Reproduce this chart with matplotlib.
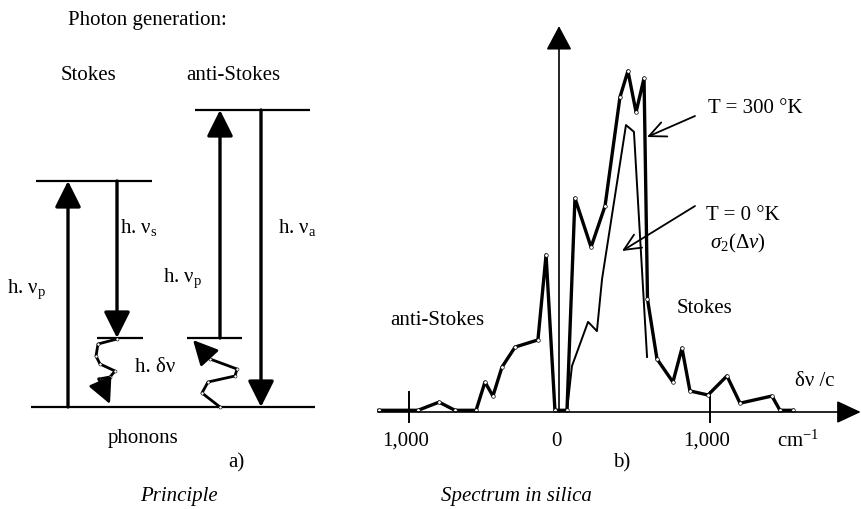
import matplotlib
matplotlib.use('Agg')
import matplotlib.pyplot as plt

plt.rcParams['font.family'] = ['Liberation Serif', 'DejaVu Serif']
plt.rcParams['font.size'] = 15
plt.rcParams['mathtext.fontset'] = 'custom'
plt.rcParams['mathtext.rm'] = 'Liberation Serif'
plt.rcParams['mathtext.it'] = 'Liberation Serif:italic'

# === Spectrum in silica: Raman shift (cm-1) vs relative gain ===
shift_300K = [-1196, -937, -797, -691, -551, -492, -439, -379, -292, -140, -86, -27,
              53, 106, 213, 306, 405, 458, 512, 565, 588, 651, 757, 817, 870, 990,
              1116, 1203, 1415, 1468, 1555]
gain_300K = [0.5, 0.5, 2.9, 0.5, 0.5, 8.8, 4.7, 13.2, 19.1, 21.2, 46.2, 0.5,
             0.5, 62.9, 48.5, 60.6, 92.6, 100.3, 88.2, 98.2, 33.2, 15.6, 8.8, 18.8, 6.2, 5.0,
             10.6, 2.6, 4.7, 0.5, 0.5]
shift_0K = [53, 86, 193, 252, 286, 445, 498, 585]
gain_0K = [0.3, 13.5, 26.5, 23.8, 39.1, 84.4, 82.4, 16.2]
tick_pos = [-1000, 0, 1000]
tick_labels = ['1,000', '0', '1,000']

# === Energy level diagram (drawing units, y pointing down) ===
level_x0 = [31, 36, 195, 97, 187]
level_x1 = [315, 152, 310, 143, 242]
level_y = [408, 182, 111, 339, 339]
# photon transitions: x, start level, end level
trans_x = [68, 117, 220, 261]
trans_from = [408, 182, 339, 111]
trans_to = [182, 339, 111, 408]
# phonon squiggles
stokes_wave_x = [117, 98, 96, 100, 115, 110, 99, 110]
stokes_wave_y = [340, 345, 357, 365, 372, 378, 380, 405]
anti_wave_x = [220, 202, 208, 235, 237, 210, 204, 193]
anti_wave_y = [408, 394, 383, 377, 370, 360, 353, 341]

W, H = 861, 510
fig = plt.figure(figsize=(W / 100, H / 100), dpi=100)
ax0 = fig.add_axes([0, 0, 1, 1])
ax0.set_xlim(0, W)
ax0.set_ylim(H, 0)
ax0.axis('off')

solid_head = '-|>,head_length=1.6,head_width=0.8'

# levels
for x0, x1, y in zip(level_x0, level_x1, level_y):
    ax0.plot([x0, x1], [y, y], color='k', lw=1.6, solid_capstyle='butt')

# photon arrows
for x, y0, y1 in zip(trans_x, trans_from, trans_to):
    ax0.annotate('', xy=(x, y1), xytext=(x, y0),
                 arrowprops=dict(arrowstyle=solid_head, mutation_scale=10, lw=2.4,
                                 color='k', shrinkA=0, shrinkB=0))

# phonon squiggles
for wx, wy in [(stokes_wave_x, stokes_wave_y), (anti_wave_x, anti_wave_y)]:
    ax0.plot(wx[:-1], wy[:-1], color='k', lw=2.0, marker='o', ms=2.2,
             mfc='white', mec='k', mew=0.4)
    ax0.annotate('', xy=(wx[-1], wy[-1]), xytext=(wx[-2], wy[-2]),
                 arrowprops=dict(arrowstyle='-|>,head_length=1.5,head_width=0.75',
                                 mutation_scale=10, lw=2.0, color='k',
                                 shrinkA=0, shrinkB=0))

ax0.text(68, 25, 'Photon generation:', ha='left', va='baseline')
ax0.text(88, 80, 'Stokes', ha='center', va='baseline')
ax0.text(233, 80, 'anti-Stokes', ha='center', va='baseline')
ax0.text(7, 293, r'h. ν$_\mathrm{p}$', ha='left', va='baseline')
ax0.text(120, 233, r'h. ν$_\mathrm{s}$', ha='left', va='baseline')
ax0.text(163, 282, r'h. ν$_\mathrm{p}$', ha='left', va='baseline')
ax0.text(278, 233, r'h. ν$_\mathrm{a}$', ha='left', va='baseline')
ax0.text(135, 372, 'h. δν', ha='left', va='baseline')
ax0.text(108, 443, 'phonons', ha='left', va='baseline')
ax0.text(228, 467, 'a)', ha='left', va='baseline')
ax0.text(140, 501, 'Principle', ha='left', va='baseline', style='italic')

# === spectrum panel ===
px0, pxs = 559, 0.1505   # pixel of 0 cm-1, pixels per cm-1
py0, pys = 413, 3.4      # pixel of zero gain, pixels per unit
xlim = (-1250, 2010)
ylim = (-20, 120)
left = (px0 + pxs * xlim[0]) / W
right = (px0 + pxs * xlim[1]) / W
bottom = 1 - (py0 - pys * ylim[0]) / H
top = 1 - (py0 - pys * ylim[1]) / H
ax1 = fig.add_axes([left, bottom, right - left, top - bottom])
ax1.set_xlim(*xlim)
ax1.set_ylim(*ylim)
ax1.axis('off')

# axes arrows
ax1.annotate('', xy=(2005, 0), xytext=(-1203, 0),
             arrowprops=dict(arrowstyle='-|>,head_length=1.5,head_width=0.7',
                             mutation_scale=10, lw=1.2, color='k', shrinkA=0, shrinkB=0))
ax1.annotate('', xy=(0, 113.5), xytext=(0, 0),
             arrowprops=dict(arrowstyle='-|>,head_length=1.5,head_width=0.8',
                             mutation_scale=10, lw=1.2, color='k', shrinkA=0, shrinkB=0))
for t in [tick_pos[0], tick_pos[2]]:
    ax1.plot([t, t], [5.9, -3.0], color='k', lw=1.4)
for t, lab in zip(tick_pos, tick_labels):
    ax1.text(t - 20, -9.7, lab, ha='center', va='baseline')

ax1.plot(shift_0K, gain_0K, color='k', lw=1.4)
ax1.plot(shift_300K, gain_300K, color='k', lw=2.4, marker='o', ms=2.6,
         mfc='white', mec='k', mew=0.5)

# annotations (drawing units)
open_head = '->,head_length=1.2,head_width=0.55'
ax0.annotate('', xy=(647, 138), xytext=(695, 117),
             arrowprops=dict(arrowstyle=open_head, mutation_scale=10, lw=1.3,
                             color='k', shrinkA=0, shrinkB=0))
ax0.annotate('', xy=(622, 252), xytext=(695, 207),
             arrowprops=dict(arrowstyle=open_head, mutation_scale=10, lw=1.3,
                             color='k', shrinkA=0, shrinkB=0))
ax0.text(708, 113, 'T = 300 °K', ha='left', va='baseline')
ax0.text(706, 220, 'T = 0 °K', ha='left', va='baseline')
ax0.text(710, 248, r'$\mathit{σ_{2}(Δν)}$', ha='left', va='baseline')
ax0.text(390, 325, 'anti-Stokes', ha='left', va='baseline')
ax0.text(677, 313, 'Stokes', ha='left', va='baseline')
ax0.text(795, 386, 'δν /c', ha='left', va='baseline')
ax0.text(777, 447, r'cm$^{\mathrm{-1}}$', ha='left', va='baseline')
ax0.text(613, 467, 'b)', ha='left', va='baseline')
ax0.text(516, 501, 'Spectrum in silica', ha='center', va='baseline', style='italic')

fig.savefig('out.png', dpi=100)
